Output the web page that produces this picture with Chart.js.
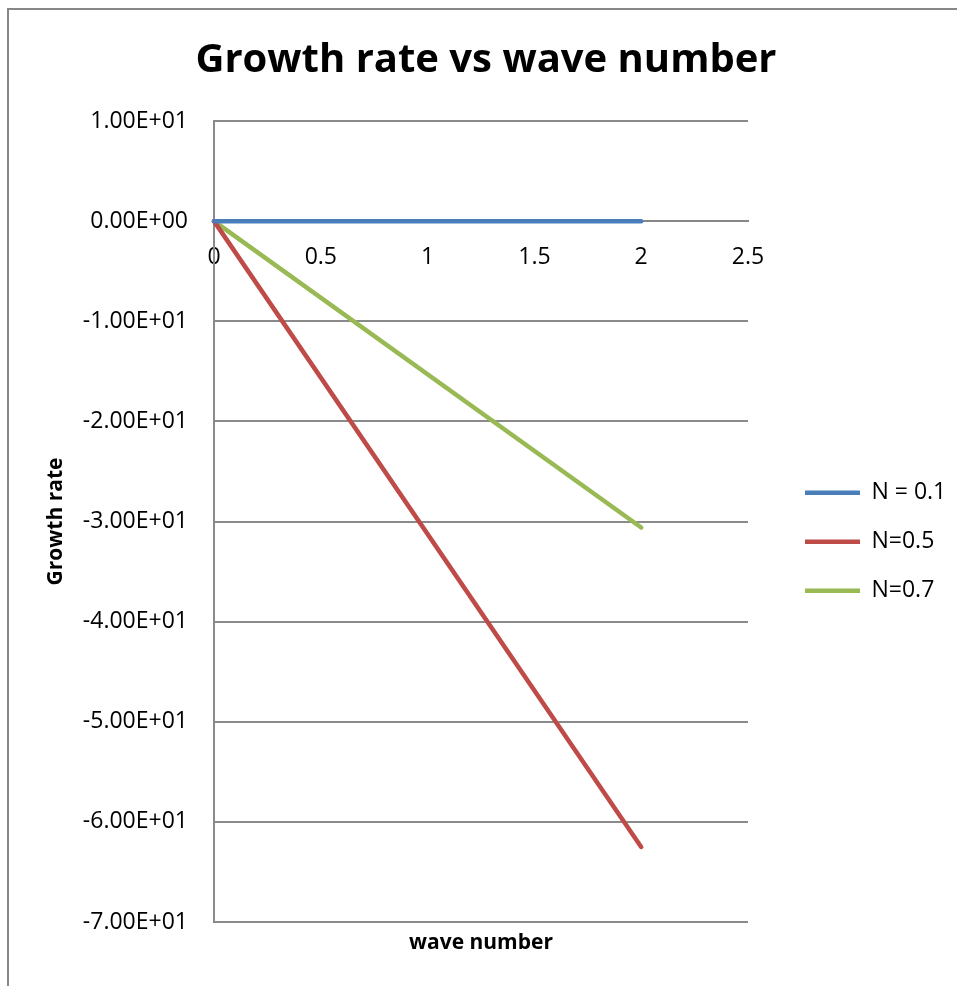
<!DOCTYPE html>
<html>
<head>
<meta charset="utf-8">
<script src="https://cdn.jsdelivr.net/npm/chart.js@4"></script>
<style>
    body { margin: 0; background: #fff; overflow: hidden; }
    #wrap { position: relative; width: 957px; height: 986px; }
    #frame { position: absolute; left: 7px; top: 8px; width: 1000px; height: 1000px;
             border-left: 2px solid #878787; border-top: 2px solid #878787; pointer-events: none; }
</style>
</head>
<body>
<div id="wrap">
    <canvas id="growthChart"></canvas>
    <div id="frame"></div>
</div>
<script>
// values
const waveNumber = [0, 2];
const seriesNames = ['N = 0.1', 'N=0.5', 'N=0.7'];
const growthN01 = [0, 0];
const growthN05 = [0, -62.5];
const growthN07 = [0, -30.6];
const seriesColors = ['#4A7EBB', '#BE4B48', '#98B954'];
const yMin = -70, yMax = 10, yStep = 10;
const xMin = 0, xMax = 2.5, xStep = 0.5;

Chart.defaults.font.family = "'Open Sans', sans-serif";
Chart.defaults.color = '#000';

function toPoints(ys) {
    return waveNumber.map((x, i) => ({ x: x, y: ys[i] }));
}

// Excel style 1.00E+01
function sciLabel(v) {
    if (v === 0) return '0.00E+00';
    const exp = Math.floor(Math.log10(Math.abs(v)));
    const mant = (v / Math.pow(10, exp)).toFixed(2);
    const sign = exp < 0 ? '-' : '+';
    return mant + 'E' + sign + String(Math.abs(exp)).padStart(2, '0');
}

const xTitlePlugin = {
    id: 'xTitle',
    afterDraw(chart) {
        const { ctx, chartArea } = chart;
        ctx.save();
        ctx.font = "bold 21px 'Open Sans'";
        ctx.fillStyle = '#000';
        ctx.textAlign = 'center';
        ctx.textBaseline = 'middle';
        ctx.fillText('wave number', (chartArea.left + chartArea.right) / 2, chartArea.bottom + 21);
        ctx.restore();
    }
};

const datasets = [growthN01, growthN05, growthN07].map((ys, i) => ({
    label: seriesNames[i],
    data: toPoints(ys),
    borderColor: seriesColors[i],
    backgroundColor: seriesColors[i],
    borderWidth: 4.5,
    borderCapStyle: 'round',
    borderJoinStyle: 'round',
    pointRadius: 0,
    showLine: true,
    clip: false
}));

new Chart(document.getElementById('growthChart'), {
    type: 'scatter',
    data: { datasets: datasets },
    options: {
        responsive: true,
        maintainAspectRatio: false,
        animation: false,
        layout: { padding: { left: 25, right: 10, top: 10, bottom: 64 } },
        plugins: {
            title: {
                display: true,
                text: 'Growth rate vs wave number',
                font: { size: 40, weight: 'bold' },
                padding: { top: 27, bottom: 36 }
            },
            legend: {
                position: 'right',
                maxWidth: 168,
                title: { display: true, text: ' ', padding: 65, font: { size: 18 } },
                labels: {
                    usePointStyle: true,
                    pointStyle: 'line',
                    pointStyleWidth: 55,
                    padding: 26,
                    font: { size: 23 }
                }
            },
            tooltip: { enabled: false }
        },
        scales: {
            x: {
                type: 'linear',
                position: { y: 0 },
                min: xMin,
                max: xMax,
                grid: { display: false, drawTicks: false },
                border: { color: '#878787', width: 2 },
                ticks: {
                    stepSize: xStep,
                    padding: 23,
                    font: { size: 23 },
                    callback: v => v
                }
            },
            y: {
                min: yMin,
                max: yMax,
                grid: { color: '#8a8a8a', lineWidth: 2, drawTicks: false },
                border: { color: '#8a8a8a', width: 2 },
                ticks: {
                    stepSize: yStep,
                    padding: 26,
                    font: { size: 23 },
                    callback: v => sciLabel(v)
                },
                title: {
                    display: true,
                    text: 'Growth rate',
                    font: { size: 21, weight: 'bold' },
                    padding: { top: 18, bottom: 0 }
                },
                afterFit: s => { s.width = 189; }
            },
            yGap: {
                position: 'right',
                grid: { display: false },
                border: { display: false },
                ticks: { display: false },
                afterFit: s => { s.width = 31; }
            }
        }
    },
    plugins: [xTitlePlugin]
});
</script>
</body>
</html>
